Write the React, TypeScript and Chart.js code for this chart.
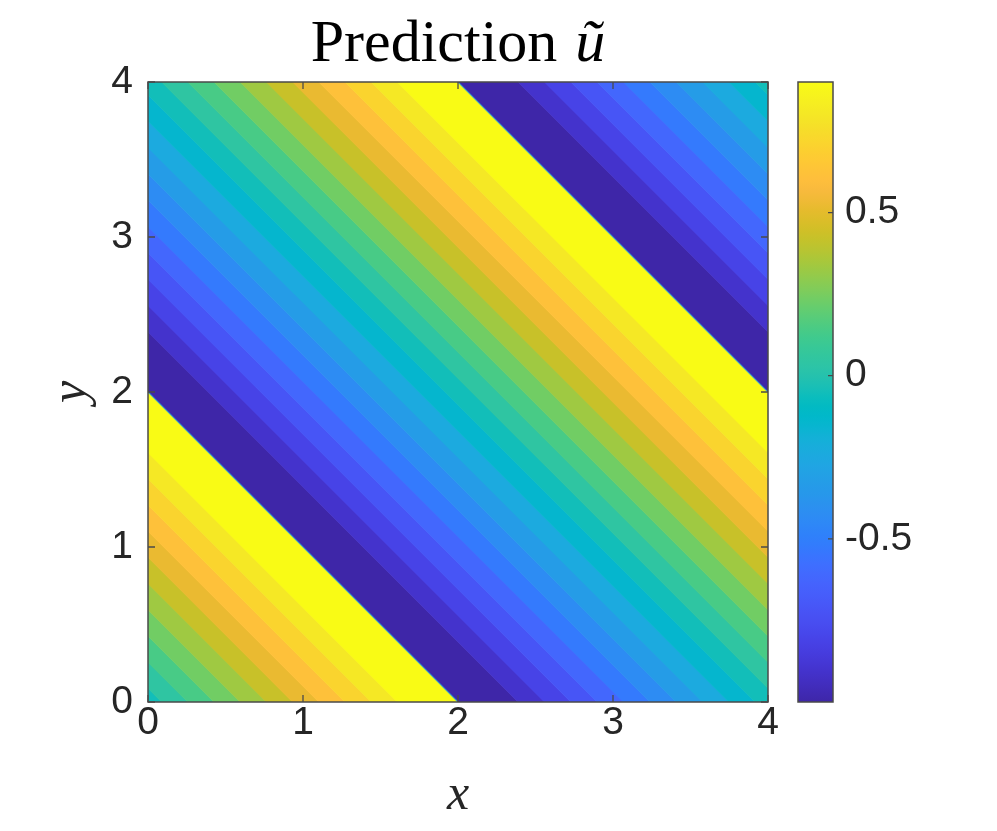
import React, { useEffect, useRef } from "react";
import { Chart, registerables } from "chart.js";

Chart.register(...registerables);

// ---------- data ----------
const xTickValues = [0, 1, 2, 3, 4];
const yTickValues = [0, 1, 2, 3, 4];
const colorbarTickValues = [-0.5, 0, 0.5];
const uMin = -1.0;
const uMax = 0.9;
// lines x + y = const where the prediction jumps from its max to its min
const shockSums = [-2, 2, 6];
// period of the pattern along x + y
const bandPeriod = 4;
// start of each filled contour band, measured along x + y from the jump
const bandStarts = [
  0, 0.385, 0.555, 0.725, 0.895, 1.065, 1.235, 1.405, 1.575, 1.745, 1.915,
  2.085, 2.254, 2.423, 2.592, 2.761, 2.93, 3.099, 3.268, 3.437, 3.606,
];
// contour level (value of u) that colours each band
const bandLevels = [
  -1.0, -0.905, -0.81, -0.715, -0.62, -0.525, -0.43, -0.335, -0.24, -0.145,
  -0.05, 0.045, 0.14, 0.235, 0.33, 0.425, 0.52, 0.615, 0.71, 0.805, 0.9,
];

// parula colormap (64 entries)
const parula: number[][] = [
  [0.2422, 0.1504, 0.6603], [0.2504, 0.165, 0.7076], [0.2578, 0.1818, 0.7511], [0.2647, 0.1978, 0.7952],
  [0.2706, 0.2147, 0.8364], [0.2751, 0.2342, 0.871], [0.2783, 0.2559, 0.8991], [0.2803, 0.2782, 0.9221],
  [0.2813, 0.3006, 0.9414], [0.281, 0.3228, 0.9579], [0.2795, 0.3447, 0.9717], [0.276, 0.3667, 0.9829],
  [0.2699, 0.3892, 0.9906], [0.2602, 0.4123, 0.9952], [0.244, 0.4358, 0.9988], [0.2206, 0.4603, 0.9973],
  [0.1963, 0.4847, 0.9892], [0.1834, 0.5074, 0.9798], [0.1786, 0.5289, 0.9682], [0.1764, 0.5499, 0.952],
  [0.1687, 0.5703, 0.9359], [0.154, 0.5902, 0.9218], [0.146, 0.6091, 0.9079], [0.138, 0.6276, 0.8973],
  [0.1248, 0.6459, 0.8883], [0.1113, 0.6635, 0.8763], [0.0952, 0.6798, 0.8598], [0.0689, 0.6948, 0.8394],
  [0.0297, 0.7082, 0.8163], [0.0036, 0.7203, 0.7917], [0.0067, 0.7312, 0.766], [0.0433, 0.7411, 0.7394],
  [0.0964, 0.75, 0.712], [0.1408, 0.7584, 0.6842], [0.1717, 0.767, 0.6554], [0.1938, 0.7758, 0.6251],
  [0.2161, 0.7843, 0.5923], [0.247, 0.7918, 0.5567], [0.2906, 0.7973, 0.5188], [0.3406, 0.8008, 0.4789],
  [0.3909, 0.8029, 0.4354], [0.4456, 0.8024, 0.3909], [0.5044, 0.7993, 0.348], [0.5616, 0.7942, 0.3045],
  [0.6174, 0.7876, 0.2612], [0.672, 0.7793, 0.2227], [0.7242, 0.7698, 0.191], [0.7738, 0.7598, 0.1646],
  [0.8203, 0.7498, 0.1535], [0.8634, 0.7406, 0.1596], [0.9035, 0.733, 0.1774], [0.9393, 0.7288, 0.21],
  [0.9728, 0.7298, 0.2394], [0.9956, 0.7434, 0.2371], [0.997, 0.7659, 0.2199], [0.9952, 0.7893, 0.2028],
  [0.9892, 0.8136, 0.1885], [0.9786, 0.8386, 0.1766], [0.9676, 0.8639, 0.1643], [0.961, 0.889, 0.1537],
  [0.9597, 0.9135, 0.1423], [0.9628, 0.9373, 0.1265], [0.9691, 0.9606, 0.1064], [0.9769, 0.9839, 0.0805],
];

// ---------- layout / style ----------
const W = 997;
const H = 831;
const TEXT = "#262626";
const AXIS = "#4a4a4a";
const TICK_FONT = { family: "'Liberation Sans', Arial, sans-serif", size: 39 };
const CB_LEFT = 798;
const CB_RIGHT = 833;

function colorAtFraction(f: number): string {
  const t = Math.max(0, Math.min(1, f)) * (parula.length - 1);
  const i = Math.floor(t);
  const j = Math.min(parula.length - 1, i + 1);
  const a = t - i;
  const c = parula[i].map((v, k) => v + (parula[j][k] - v) * a);
  return `rgb(${Math.round(c[0] * 255)},${Math.round(c[1] * 255)},${Math.round(c[2] * 255)})`;
}
function colorForValue(v: number): string {
  return colorAtFraction((v - uMin) / (uMax - uMin));
}

type P = [number, number];
function clipHalf(poly: P[], fn: (p: P) => number): P[] {
  const out: P[] = [];
  for (let i = 0; i < poly.length; i++) {
    const a = poly[i];
    const b = poly[(i + 1) % poly.length];
    const fa = fn(a);
    const fb = fn(b);
    if (fa >= 0) out.push(a);
    if (fa >= 0 !== fb >= 0) {
      const t = fa / (fa - fb);
      out.push([a[0] + t * (b[0] - a[0]), a[1] + t * (b[1] - a[1])]);
    }
  }
  return out;
}

const fieldPlugin = {
  id: "fieldPlugin",
  beforeDatasetsDraw(chart: any) {
    const { ctx, chartArea } = chart;
    const xs = chart.scales.x;
    const ys = chart.scales.y;
    ctx.save();
    ctx.beginPath();
    ctx.rect(chartArea.left, chartArea.top, chartArea.right - chartArea.left, chartArea.bottom - chartArea.top);
    ctx.clip();
    const square: P[] = [
      [xs.min, ys.min],
      [xs.max, ys.min],
      [xs.max, ys.max],
      [xs.min, ys.max],
    ];
    shockSums.forEach((S) => {
      bandStarts.forEach((off, k) => {
        const s0 = S + off;
        const end = k + 1 < bandStarts.length ? bandStarts[k + 1] : bandPeriod;
        const s1 = S + end + 0.005;
        let poly = clipHalf(square, (p) => p[0] + p[1] - s0);
        poly = clipHalf(poly, (p) => s1 - (p[0] + p[1]));
        if (poly.length < 3) return;
        ctx.beginPath();
        poly.forEach((p, i) => {
          const px = xs.getPixelForValue(p[0]);
          const py = ys.getPixelForValue(p[1]);
          if (i === 0) ctx.moveTo(px, py);
          else ctx.lineTo(px, py);
        });
        ctx.closePath();
        ctx.fillStyle = colorForValue(bandLevels[k]);
        ctx.fill();
      });
    });
    // thin fringe along the jump lines
    shockSums.forEach((S) => {
      const pts: P[] = [];
      const cand: P[] = [
        [xs.min, S - xs.min],
        [xs.max, S - xs.max],
        [S - ys.min, ys.min],
        [S - ys.max, ys.max],
      ];
      cand.forEach((p) => {
        if (p[0] >= xs.min - 1e-9 && p[0] <= xs.max + 1e-9 && p[1] >= ys.min - 1e-9 && p[1] <= ys.max + 1e-9) pts.push(p);
      });
      if (pts.length < 2) return;
      ctx.beginPath();
      ctx.moveTo(xs.getPixelForValue(pts[0][0]), ys.getPixelForValue(pts[0][1]));
      ctx.lineTo(xs.getPixelForValue(pts[1][0]), ys.getPixelForValue(pts[1][1]));
      ctx.strokeStyle = "rgba(45,160,215,0.85)";
      ctx.lineWidth = 1.1;
      ctx.stroke();
    });
    ctx.restore();
  },
  afterDraw(chart: any) {
    const { ctx, chartArea } = chart;
    const xs = chart.scales.x;
    const ys = chart.scales.y;
    const cb = chart.scales.cb;
    ctx.save();
    // axes box
    ctx.strokeStyle = AXIS;
    ctx.lineWidth = 1.5;
    ctx.strokeRect(chartArea.left, chartArea.top, chartArea.right - chartArea.left, chartArea.bottom - chartArea.top);
    // inward ticks
    const TL = 7;
    ctx.lineWidth = 1.3;
    ctx.beginPath();
    xTickValues.forEach((v) => {
      const px = xs.getPixelForValue(v);
      ctx.moveTo(px, chartArea.bottom);
      ctx.lineTo(px, chartArea.bottom - TL);
      ctx.moveTo(px, chartArea.top);
      ctx.lineTo(px, chartArea.top + TL);
    });
    yTickValues.forEach((v) => {
      const py = ys.getPixelForValue(v);
      ctx.moveTo(chartArea.left, py);
      ctx.lineTo(chartArea.left + TL, py);
      ctx.moveTo(chartArea.right, py);
      ctx.lineTo(chartArea.right - TL, py);
    });
    ctx.stroke();

    // colorbar
    const top = cb.getPixelForValue(uMax);
    const bottom = cb.getPixelForValue(uMin);
    const grad = ctx.createLinearGradient(0, bottom, 0, top);
    parula.forEach((c, i) => {
      grad.addColorStop(i / (parula.length - 1), `rgb(${Math.round(c[0] * 255)},${Math.round(c[1] * 255)},${Math.round(c[2] * 255)})`);
    });
    ctx.fillStyle = grad;
    ctx.fillRect(CB_LEFT, top, CB_RIGHT - CB_LEFT, bottom - top);
    ctx.strokeStyle = AXIS;
    ctx.lineWidth = 1.5;
    ctx.strokeRect(CB_LEFT, top, CB_RIGHT - CB_LEFT, bottom - top);
    ctx.lineWidth = 1.3;
    ctx.beginPath();
    colorbarTickValues.forEach((v) => {
      const py = cb.getPixelForValue(v);
      ctx.moveTo(CB_RIGHT, py);
      ctx.lineTo(CB_RIGHT - 5, py);
    });
    ctx.stroke();

    // title
    const cx = (chartArea.left + chartArea.right) / 2;
    ctx.fillStyle = "#000";
    ctx.textBaseline = "alphabetic";
    ctx.textAlign = "left";
    const fontR = "60px 'Liberation Serif', 'Times New Roman', serif";
    const fontI = "italic 60px 'Liberation Serif', 'Times New Roman', serif";
    ctx.font = fontR;
    const w1 = ctx.measureText("Prediction").width;
    const gap = 18;
    ctx.font = fontI;
    const w2 = ctx.measureText("ũ").width;
    const x0 = cx - (w1 + gap + w2) / 2;
    ctx.font = fontR;
    ctx.fillText("Prediction", x0, 61);
    ctx.font = fontI;
    ctx.fillText("ũ", x0 + w1 + gap, 61);
    ctx.restore();
  },
};

export default function App() {
  const ref = useRef<HTMLCanvasElement | null>(null);
  useEffect(() => {
    if (!ref.current) return;
    const chart = new Chart(ref.current, {
      type: "scatter",
      data: { datasets: [{ data: [], pointRadius: 0 }] },
      plugins: [fieldPlugin],
      options: {
        animation: false,
        responsive: false,
        devicePixelRatio: 1,
        layout: { padding: { top: 82, left: 0, right: 0, bottom: 0 } },
        plugins: { legend: { display: false }, tooltip: { enabled: false }, title: { display: false } },
        scales: {
          x: {
            type: "linear",
            position: "bottom",
            min: 0,
            max: 4,
            grid: { display: false, drawTicks: false },
            border: { display: false },
            afterBuildTicks: (s: any) => {
              s.ticks = xTickValues.map((v) => ({ value: v }));
            },
            afterFit: (s: any) => {
              s.height = 129;
              s.paddingLeft = 0;
              s.paddingRight = 0;
            },
            ticks: { font: TICK_FONT, color: TEXT, padding: -2, maxRotation: 0 },
            title: {
              display: true,
              text: "x",
              color: TEXT,
              font: { family: "'Liberation Serif', serif", style: "italic", size: 50 },
              padding: { top: 0, bottom: 5 },
            },
          },
          y: {
            type: "linear",
            position: "left",
            min: 0,
            max: 4,
            grid: { display: false, drawTicks: false },
            border: { display: false },
            afterBuildTicks: (s: any) => {
              s.ticks = yTickValues.map((v) => ({ value: v }));
            },
            afterFit: (s: any) => {
              s.width = 148;
              s.paddingTop = 0;
              s.paddingBottom = 0;
            },
            ticks: { font: TICK_FONT, color: TEXT, padding: 15 },
            title: {
              display: true,
              text: "y",
              color: TEXT,
              font: { family: "'Liberation Serif', serif", style: "italic", size: 50 },
              padding: { top: 42, bottom: 0 },
            },
          },
          cb: {
            type: "linear",
            position: "right",
            axis: "y",
            min: uMin,
            max: uMax,
            grid: { display: false, drawTicks: false },
            border: { display: false },
            afterBuildTicks: (s: any) => {
              s.ticks = colorbarTickValues.map((v) => ({ value: v }));
            },
            afterFit: (s: any) => {
              s.width = W - 768;
              s.paddingTop = 0;
              s.paddingBottom = 0;
            },
            ticks: { font: TICK_FONT, color: TEXT, padding: 12 + CB_RIGHT - 768 },
          },
        },
      } as any,
    });
    return () => chart.destroy();
  }, []);
  return (
    <div style={{ position: "absolute", left: 0, top: 0, width: W, height: H, background: "#fff" }}>
      <canvas ref={ref} width={W} height={H} style={{ width: W, height: H, display: "block" }} />
    </div>
  );
}
